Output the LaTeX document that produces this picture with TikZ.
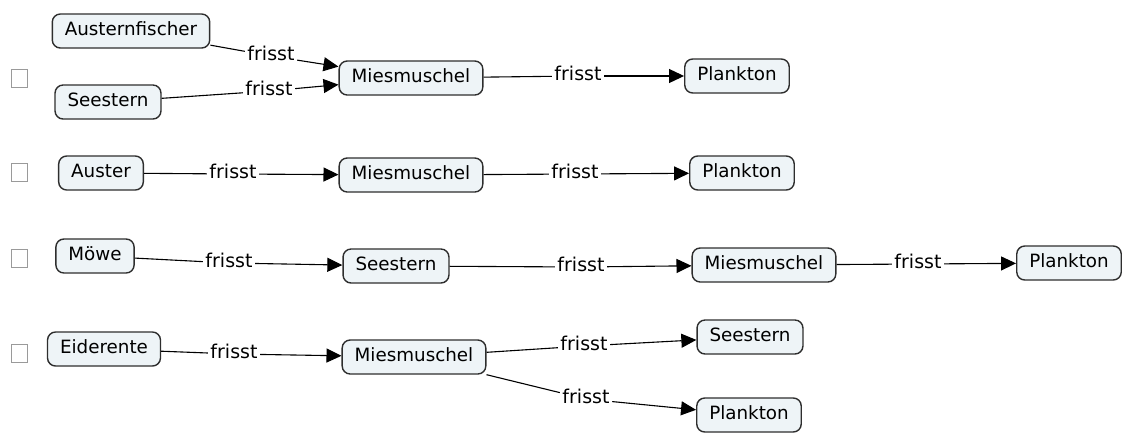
\documentclass[tikz,border=0pt]{standalone}
\usepackage{fontspec}
\setmainfont{DejaVu Sans}
\usetikzlibrary{arrows.meta}
\definecolor{boxfill}{HTML}{EEF4F7}
\definecolor{boxline}{HTML}{2E2E2E}
\definecolor{cbline}{HTML}{9A9A9A}
\begin{document}
\begin{tikzpicture}[x=1pt,y=-1pt,
  concept/.style={draw=boxline,line width=1.4pt,fill=boxfill,rounded corners=8pt,
    font=\fontsize{18.3}{22}\selectfont,inner xsep=12.5pt,minimum height=34pt,text height=13pt,text depth=3.5pt},
  lab/.style={font=\fontsize{19}{22}\selectfont,inner sep=2.5pt,text height=13pt,text depth=3.5pt},
  cb/.style={draw=cbline,line width=0.8pt,minimum width=16pt,minimum height=18pt,inner sep=0pt},
  link/.style={line width=1.1pt,draw=black},
  arr/.style={link,-{Triangle[length=15pt,width=14pt]}}]
\path[use as bounding box] (0,0) rectangle (1129,432);
% checkboxes
\node[cb] (c1) at (19,78) {};
\node[cb] (c2) at (19,172) {};
\node[cb] (c3) at (19,258) {};
\node[cb] (c4) at (19,353) {};
% row 1
\node[concept] (af) at (131,31) {Austernfischer};
\node[concept] (se1) at (108,102) {Seestern};
\node[concept] (mm1) at (411,78) {Miesmuschel};
\node[concept] (pl1) at (737,76) {Plankton};
\node[lab] (l1a) at (271,56) {frisst};
\node[lab] (l1b) at (269,91) {frisst};
\node[lab] (l1c) at (578,76) {frisst};
\draw[link] (af) -- (l1a); \draw[arr] (l1a) -- (mm1);
\draw[link] (se1) -- (l1b); \draw[arr] (l1b) -- (mm1);
\draw[link] (mm1) -- (l1c); \draw[arr] (l1c) -- (pl1);
% row 2
\node[concept] (au) at (101,173) {Auster};
\node[concept] (mm2) at (411,175) {Miesmuschel};
\node[concept] (pl2) at (742,173) {Plankton};
\node[lab] (l2a) at (233,174) {frisst};
\node[lab] (l2b) at (575,174) {frisst};
\draw[link] (au) -- (l2a); \draw[arr] (l2a) -- (mm2);
\draw[link] (mm2) -- (l2b); \draw[arr] (l2b) -- (pl2);
% row 3
\node[concept] (mo) at (95,256) {Möwe};
\node[concept] (se3) at (396,266) {Seestern};
\node[concept] (mm3) at (764,265) {Miesmuschel};
\node[concept] (pl3) at (1069,263) {Plankton};
\node[lab] (l3a) at (229,263) {frisst};
\node[lab] (l3b) at (581,267) {frisst};
\node[lab] (l3c) at (918,264) {frisst};
\draw[link] (mo) -- (l3a); \draw[arr] (l3a) -- (se3);
\draw[link] (se3) -- (l3b); \draw[arr] (l3b) -- (mm3);
\draw[link] (mm3) -- (l3c); \draw[arr] (l3c) -- (pl3);
% row 4
\node[concept] (ei) at (104,349) {Eiderente};
\node[concept] (mm4) at (414,357) {Miesmuschel};
\node[concept] (se4) at (750,337) {Seestern};
\node[concept] (pl4) at (749,415) {Plankton};
\node[lab] (l4a) at (234,354) {frisst};
\node[lab] (l4b) at (584,346) {frisst};
\node[lab] (l4c) at (586,399) {frisst};
\draw[link] (ei) -- (l4a); \draw[arr] (l4a) -- (mm4);
\draw[link] (mm4) -- (l4b); \draw[arr] (l4b) -- (se4);
\draw[link] (mm4) -- (l4c); \draw[arr] (l4c) -- (pl4);
\end{tikzpicture}
\end{document}
